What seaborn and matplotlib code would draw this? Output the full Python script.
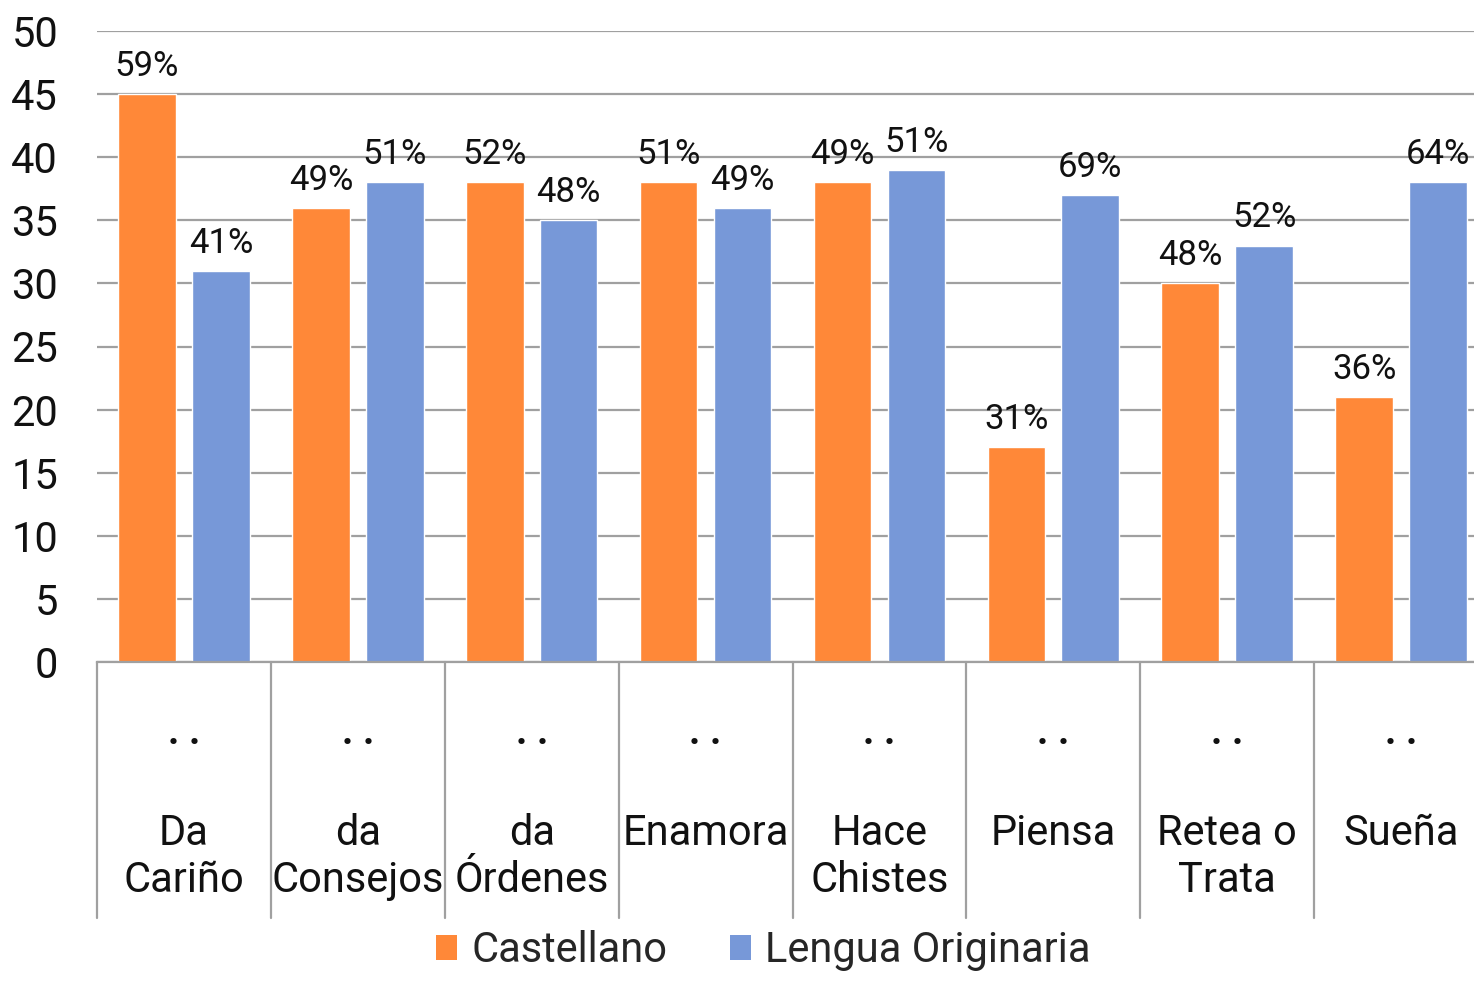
import matplotlib
matplotlib.use("Agg")
import matplotlib.pyplot as plt
import matplotlib.transforms as mtransforms
from matplotlib.patches import Patch
import numpy as np
import pandas as pd
import seaborn as sns

categories = ["Da\nCariño", "da\nConsejos", "da\nÓrdenes", "Enamora",
              "Hace\nChistes", "Piensa", "Retea o\nTrata", "Sueña"]
castellano = [45, 36, 38, 38, 38, 17, 30, 21]
originaria = [31, 38, 35, 36, 39, 37, 33, 38]
castellano_pct = ["59%", "49%", "52%", "51%", "49%", "31%", "48%", "36%"]
originaria_pct = ["41%", "51%", "48%", "49%", "51%", "69%", "52%", "64%"]
series = ["Castellano", "Lengua Originaria"]
colors = ["#FF8838", "#7798D8"]

sns.set_theme(style="white")
plt.rcParams['font.family'] = ['Roboto', 'DejaVu Sans']

df = pd.DataFrame({
    "cat": categories * 2,
    "val": castellano + originaria,
    "lang": [series[0]] * len(categories) + [series[1]] * len(categories),
})

fig = plt.figure(figsize=(14.74, 9.83), dpi=100)
# the plot area runs slightly past the right edge of the figure, as in the original
ax = fig.add_axes([97 / 1474, 1 - 662 / 983, (1488 - 97) / 1474, (662 - 31) / 983])

sns.barplot(data=df, x="cat", y="val", hue="lang", order=categories,
            hue_order=series, palette=colors, saturation=1,
            width=0.85, gap=0.22, legend=False, ax=ax)

for cont, labs in zip(ax.containers, [castellano_pct, originaria_pct]):
    ax.bar_label(cont, labels=labs, padding=8, fontsize=25, color="#111111")

ax.set_ylim(0, 50)
ax.set_xlim(-0.5, len(categories) - 0.5)
ax.set_yticks(range(0, 51, 5))
ax.yaxis.grid(True, color="#A0A0A0", linewidth=1.6)
ax.set_axisbelow(True)
ax.set_xticks([])
ax.set_xlabel("")
ax.set_ylabel("")
ax.tick_params(axis="y", length=0, pad=28, labelsize=30, labelcolor="#111111")
for s in ["left", "right", "top"]:
    ax.spines[s].set_visible(False)
ax.spines["bottom"].set_color("#A0A0A0")
ax.spines["bottom"].set_linewidth(1.6)

# two-level category axis below the plot
trans = mtransforms.blended_transform_factory(ax.transData, ax.transAxes)
y_low = (662 - 918) / 631
for i in range(len(categories) + 1):
    ax.plot([i - 0.5, i - 0.5], [0, y_low], transform=trans, clip_on=False,
            color="#A0A0A0", linewidth=1.6)
for i, cat in enumerate(categories):
    ax.text(i, (662 - 733) / 631, ". .", transform=trans, ha="center",
            va="center", fontsize=28, fontweight="bold", color="#111111")
    ax.text(i, (662 - 813) / 631, cat, transform=trans, ha="center",
            va="top", fontsize=30, color="#111111", linespacing=1.2)

handles = [Patch(facecolor=c, edgecolor="none") for c in colors]
fig.legend(handles, series, loc="lower center", bbox_to_anchor=(0.518, -0.026),
           ncol=2, frameon=False, fontsize=30, handlelength=0.5,
           handleheight=0.55, handletextpad=0.35, columnspacing=1.5)

fig.savefig("out.png", dpi=100)
